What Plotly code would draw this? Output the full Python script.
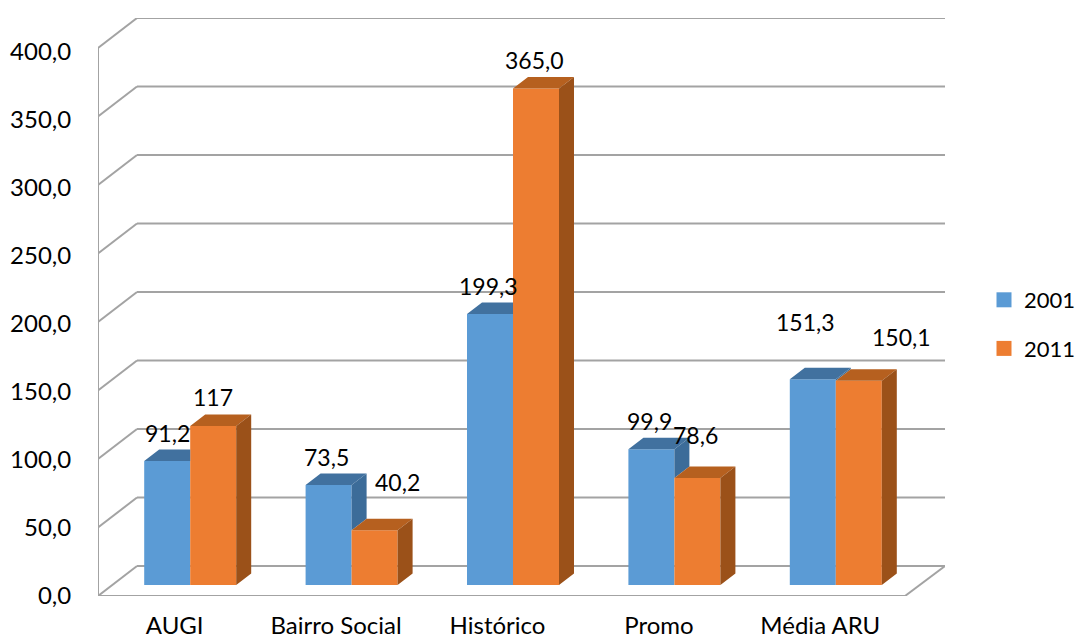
import plotly.graph_objects as go

categories = ["AUGI", "Bairro Social", "Histórico", "Promo", "Média ARU"]
values_2001 = [91.2, 73.5, 199.3, 99.9, 151.3]
values_2011 = [117, 40.2, 365.0, 78.6, 150.1]
labels_2001 = ["91,2", "73,5", "199,3", "99,9", "151,3"]
labels_2011 = ["117", "40,2", "365,0", "78,6", "150,1"]
y_ticks = [0, 50, 100, 150, 200, 250, 300, 350, 400]
y_tick_labels = ["0,0", "50,0", "100,0", "150,0", "200,0", "250,0", "300,0", "350,0", "400,0"]

# manual label offsets in pixels (dx, dy up from bar top centre)
shift_2001 = [(0, 28), (-2, 28), (-2, 28), (-2, 28), (-7, 57)]
shift_2011 = [(0, 29), (23, 48), (-2, 29), (-2, 43), (43, 44)]

# geometry, pixels
PXX, PXY = 161.4, 1.36
GRID_SCALE = 1.37 / 1.36  # the walls are drawn a touch taller than the value scale
L, R, T, B = 98, 945, 18, 596
WALL_X, WALL_Y = 39 / PXX, 30 / PXY
BAR_X, BAR_Y = 11.5 / PXX, 11 / PXY
DEP_X, DEP_Y = 15 / PXX, 11.5 / PXY
BW = 46 / PXX

BLUE, BLUE_TOP, BLUE_SIDE = "#5b9bd5", "#41719f", "#3c6c99"
ORANGE, ORANGE_TOP, ORANGE_SIDE = "#ed7d31", "#b6601f", "#9b5119"
GRID = "#a3a3a3"
FONT = "Lato"
x_min = -0.5
x_max = x_min + (R - L) / PXX
y_max = (B - T) / PXY
x_front_end = 4.5

fig = go.Figure()
pos = [i + BAR_X for i in range(len(categories))]
base = BAR_Y

for name, vals, col in (("2001", values_2001, BLUE), ("2011", values_2011, ORANGE)):
    fig.add_bar(x=pos, y=vals, base=[base] * len(vals), name=name, marker=dict(color=col, line_width=0),
                showlegend=False, hoverinfo="skip")


def poly(points):
    xs, ys = [], []
    for group in points:
        xs += [p[0] for p in group] + [group[0][0], None]
        ys += [p[1] for p in group] + [group[0][1], None]
    return xs, ys


side_a, top_a, top_b, side_b = [], [], [], []
for c, a, b in zip(pos, values_2001, values_2011):
    l, m, r = c - BW, c, c + BW
    ta, tb = a + base, b + base
    if a > b:
        side_a.append([(m, tb), (m, ta), (m + DEP_X, ta + DEP_Y), (m + DEP_X, tb + DEP_Y)])
        top_a.append([(l, ta), (m, ta), (m + DEP_X, ta + DEP_Y), (l + DEP_X, ta + DEP_Y)])
    else:
        top_a.append([(l, ta), (m, ta), (m, ta + DEP_Y), (l + DEP_X, ta + DEP_Y)])
    top_b.append([(m, tb), (r, tb), (r + DEP_X, tb + DEP_Y), (m + DEP_X, tb + DEP_Y)])
    side_b.append([(r, base), (r, tb), (r + DEP_X, tb + DEP_Y), (r + DEP_X, base + DEP_Y)])

for faces, col in ((side_a, BLUE_SIDE), (top_a, BLUE_TOP), (top_b, ORANGE_TOP), (side_b, ORANGE_SIDE)):
    xs, ys = poly(faces)
    fig.add_scatter(x=xs, y=ys, mode="lines", fill="toself", fillcolor=col, line=dict(width=0, color=col),
                    showlegend=False, hoverinfo="skip", cliponaxis=False)

# legend entries
for name, col in (("2001", BLUE), ("2011", ORANGE)):
    fig.add_scatter(x=[None], y=[None], mode="markers", name=name, legendgroup=name,
                    marker=dict(symbol="square", size=15, color=col))

# walls and floor, below the traces
shapes = []
line = dict(color=GRID, width=2)
for v in y_ticks:
    g = v * GRID_SCALE
    shapes.append(dict(type="line", x0=x_min, y0=g, x1=x_min + WALL_X, y1=g + WALL_Y, line=line, layer="below"))
    shapes.append(dict(type="line", x0=x_min + WALL_X, y0=g + WALL_Y, x1=x_max, y1=g + WALL_Y, line=line, layer="below"))
shapes.append(dict(type="line", x0=x_min, y0=0, x1=x_min, y1=400 * GRID_SCALE, line=line, layer="below"))
shapes.append(dict(type="line", x0=x_min, y0=0, x1=x_front_end, y1=0, line=line, layer="below"))
shapes.append(dict(type="line", x0=x_front_end, y0=0, x1=x_max, y1=WALL_Y, line=line, layer="below"))

annotations = []
for vals, labels, shifts, off in ((values_2001, labels_2001, shift_2001, -BW / 2),
                                   (values_2011, labels_2011, shift_2011, BW / 2)):
    for c, v, t, (dx, dy) in zip(pos, vals, labels, shifts):
        annotations.append(dict(x=c + off, y=v + base, text=t, showarrow=False, xshift=dx, yshift=dy,
                                xanchor="center", yanchor="middle", font=dict(family=FONT, size=23, color="#000000")))

fig.update_layout(
    width=1077, height=640, margin=dict(l=L, r=1077 - R, t=T, b=640 - B, pad=0, autoexpand=False),
    paper_bgcolor="white", plot_bgcolor="white", autosize=False,
    barmode="group", bargap=1 - 2 * BW, bargroupgap=0,
    font=dict(family=FONT, size=24, color="#000000"),
    shapes=shapes, annotations=annotations,
    legend=dict(x=(984 - L) / (R - L), y=1 - (279 - T) / (B - T), xanchor="left", yanchor="top",
                font=dict(family=FONT, size=22), tracegroupgap=17, bgcolor="rgba(0,0,0,0)", itemwidth=30),
    xaxis=dict(range=[x_min, x_max], tickvals=[i - 4 / PXX for i in range(len(categories))], ticktext=categories,
               ticks="outside", ticklen=8, tickcolor="rgba(0,0,0,0)", showgrid=False, zeroline=False,
               showline=False, tickfont=dict(family=FONT, size=24)),
    yaxis=dict(range=[0, y_max], tickvals=y_ticks, ticktext=y_tick_labels, ticks="outside",
               ticklen=21, tickcolor="rgba(0,0,0,0)", showgrid=False, zeroline=False, showline=False,
               tickfont=dict(family=FONT, size=24)),
)
fig.write_html("out.html", post_script="document.body.style.margin='0';", config={"displayModeBar": False})
